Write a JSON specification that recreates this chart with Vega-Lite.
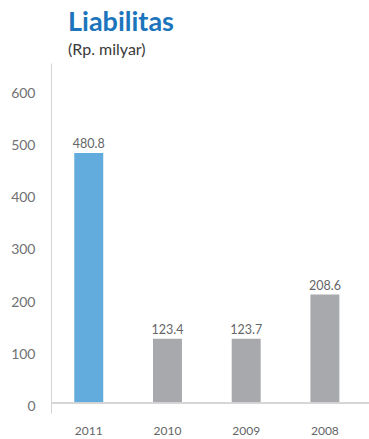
{
  "$schema": "https://vega.github.io/schema/vega-lite/v6.json",
  "autosize": "none",
  "padding": {"left": 51, "top": 63, "right": 0, "bottom": 26},
  "width": 318,
  "height": 350,
  "background": "white",
  "config": {"view": {"stroke": null}, "font": "Lato"},
  "title": {
    "text": "Liabilitas",
    "subtitle": "(Rp. milyar)",
    "anchor": "start",
    "frame": "group",
    "dx": 17,
    "offset": 4,
    "font": "Lato",
    "fontSize": 27,
    "fontWeight": "bold",
    "color": "#1c75bc",
    "subtitleFont": "Lato",
    "subtitleFontSize": 16,
    "subtitleColor": "#3a3a3a",
    "subtitlePadding": 5
  },
  "data": {
    "values": [
      {"year": "2011", "value": 480.8, "highlight": "yes"},
      {"year": "2010", "value": 123.4, "highlight": "no"},
      {"year": "2009", "value": 123.7, "highlight": "no"},
      {"year": "2008", "value": 208.6, "highlight": "no"}
    ]
  },
  "encoding": {
    "x": {
      "field": "year",
      "type": "nominal",
      "sort": null,
      "scale": {"paddingInner": 0.632, "paddingOuter": 0.336, "align": 0.44},
      "axis": {
        "title": null,
        "domain": false,
        "ticks": false,
        "labelAngle": 0,
        "labelFont": "Lato",
        "labelFontSize": 12,
        "labelColor": "#646567",
        "labelPadding": 12
      }
    },
    "y": {
      "field": "value",
      "type": "quantitative",
      "scale": {"domain": [-19.2, 653.8], "nice": false, "zero": false},
      "axis": {
        "title": null,
        "values": [0, 100, 200, 300, 400, 500, 600],
        "grid": false,
        "ticks": false,
        "domain": true,
        "domainColor": "#d4d4d4",
        "domainWidth": 1,
        "labelFont": "Lato",
        "labelFontSize": 14,
        "labelColor": "#707174",
        "labelPadding": 16,
        "labelOffset": 3
      }
    }
  },
  "layer": [
    {
      "mark": {"type": "bar"},
      "encoding": {
        "y2": {"datum": 0},
        "color": {
          "field": "highlight",
          "type": "nominal",
          "scale": {"domain": ["yes", "no"], "range": ["#62acdd", "#a7a9ac"]},
          "legend": null
        }
      }
    },
    {
      "mark": {"type": "text", "baseline": "alphabetic", "dy": -5, "font": "Lato", "fontSize": 12.5, "color": "#646567"},
      "encoding": {"text": {"field": "value", "type": "quantitative", "format": ".1f"}}
    },
    {
      "mark": {"type": "rule", "color": "#d4d4d4", "strokeWidth": 1},
      "encoding": {"y": {"datum": 0}, "x": null}
    }
  ]
}
